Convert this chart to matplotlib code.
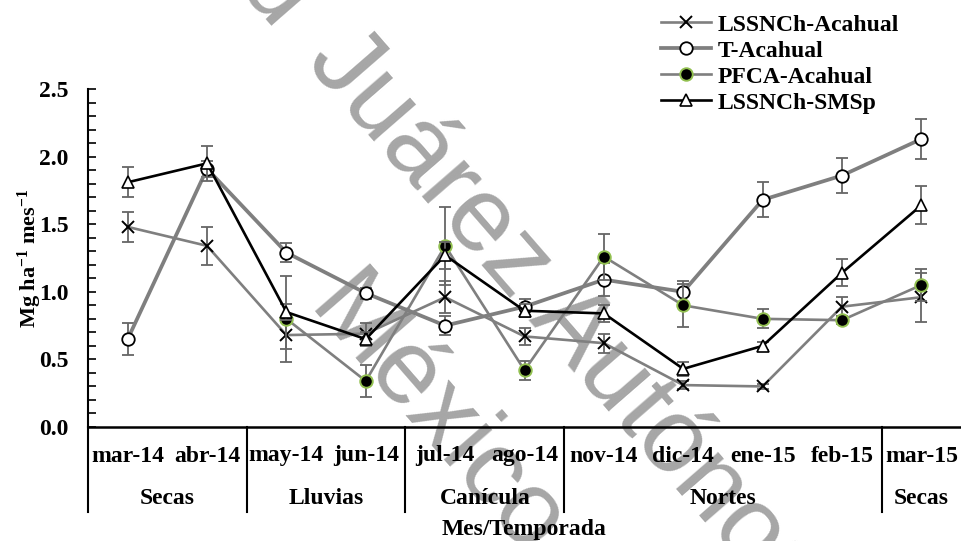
import numpy as np
import matplotlib
matplotlib.use("Agg")
import matplotlib.pyplot as plt
import matplotlib.transforms as mtransforms
from matplotlib.ticker import MultipleLocator, FormatStrFormatter

# ---------------- data ----------------
months = ['mar-14', 'abr-14', 'may-14', 'jun-14', 'jul-14', 'ago-14',
          'nov-14', 'dic-14', 'ene-15', 'feb-15', 'mar-15']
seasons = ['Secas', 'Lluvias', 'Canícula', 'Nortes', 'Secas']
season_sizes = [2, 2, 2, 4, 1]

series_names = ['LSSNCh-Acahual', 'T-Acahual', 'PFCA-Acahual', 'LSSNCh-SMSp']

lss_acahual = [1.48, 1.34, 0.68, 0.69, 0.96, 0.67, 0.62, 0.31, 0.30, 0.89, 0.96]
lss_acahual_err = [0.11, 0.14, 0.10, 0.08, 0.12, 0.06, 0.07, 0.03, 0.02, 0.07, 0.18]

t_acahual = [0.65, 1.91, 1.29, 0.99, 0.75, 0.89, 1.09, 1.00, 1.68, 1.86, 2.13]
t_acahual_err = [0.12, 0.06, 0.07, 0.04, 0.07, 0.06, 0.12, 0.08, 0.13, 0.13, 0.15]

pfca_acahual = [np.nan, np.nan, 0.80, 0.34, 1.34, 0.42, 1.26, 0.90, 0.80, 0.79, 1.05]
pfca_acahual_err = [np.nan, np.nan, 0.32, 0.12, 0.29, 0.07, 0.17, 0.16, 0.07, 0.03, 0.12]

lss_smsp = [1.81, 1.95, 0.85, 0.65, 1.27, 0.86, 0.84, 0.43, 0.60, 1.14, 1.64]
lss_smsp_err = [0.11, 0.13, 0.06, 0.05, 0.10, 0.05, 0.06, 0.05, 0.03, 0.10, 0.14]

# ---------------- style ----------------
SERIF = ['Liberation Serif', 'DejaVu Serif']
plt.rcParams['font.family'] = SERIF
plt.rcParams['font.weight'] = 'bold'
plt.rcParams['mathtext.fontset'] = 'custom'
plt.rcParams['mathtext.rm'] = 'Liberation Serif:bold'
plt.rcParams['mathtext.bf'] = 'Liberation Serif:bold'
plt.rcParams['mathtext.default'] = 'bf'

FS = 17
W, H = 961, 541
fig = plt.figure(figsize=(W / 100, H / 100), dpi=100)
fig.patch.set_facecolor('white')

ax_left, ax_right, ax_top, ax_bot = 88, 961, 89, 427
ax = fig.add_axes([ax_left / W, 1 - ax_bot / H, (ax_right - ax_left) / W, (ax_bot - ax_top) / H])
ax.set_facecolor('none')
ax.set_zorder(2)

# ---------------- watermark ----------------
wm_color = '#a6a6a6'
wm_kw = dict(rotation=-49, rotation_mode='anchor', fontsize=76, color=wm_color,
             family=['Liberation Sans', 'DejaVu Sans'], weight='normal', zorder=0)
fig.text(294 / W, 1 - 53 / H, 'Universidad ', ha='right', va='baseline', **wm_kw)
fig.text(305 / W, 1 - 62 / H, 'Juárez Autónoma de Tabasco', ha='left', va='baseline', **wm_kw)
fig.text(305 / W, 1 - 310 / H, 'México', ha='left', va='baseline', **wm_kw)

# ---------------- series ----------------
x = np.arange(len(months))
gray = '#7f7f7f'
ecol = '#666666'

specs = [
    (lss_acahual, lss_acahual_err, dict(color=gray, lw=1.9, marker='x', ms=8, mec='black', mew=1.4, mfc='none')),
    (t_acahual, t_acahual_err, dict(color=gray, lw=2.7, marker='o', ms=9, mec='black', mew=1.3, mfc='white')),
    (pfca_acahual, pfca_acahual_err, dict(color=gray, lw=1.9, marker='o', ms=9, mec='#92c050', mew=1.4, mfc='black')),
    (lss_smsp, lss_smsp_err, dict(color='black', lw=1.9, marker='^', ms=9, mec='black', mew=1.2, mfc='white')),
]

handles = []
for i, (vals, errs, kw) in enumerate(specs):
    v = np.array(vals, dtype=float)
    e = np.array(errs, dtype=float)
    ax.errorbar(x, v, yerr=e, fmt='none', ecolor=ecol, elinewidth=1.3,
                capsize=4.5, capthick=1.3, zorder=3 + i)
    ln, = ax.plot(x, v, zorder=4 + i, clip_on=False, **kw)
    handles.append(ln)

# ---------------- axes ----------------
ax.set_xlim(-0.5, len(months) - 0.5)
ax.set_ylim(0, 2.5)
ax.yaxis.set_major_locator(MultipleLocator(0.5))
ax.yaxis.set_minor_locator(MultipleLocator(0.1))
ax.yaxis.set_major_formatter(FormatStrFormatter('%.1f'))
ax.tick_params(axis='y', which='both', direction='in', length=6, width=1.2, pad=14,
               labelsize=FS)
ax.tick_params(axis='x', which='both', length=0, labelbottom=False)
for lab in ax.get_yticklabels():
    lab.set_fontweight('bold')
ax.spines['top'].set_visible(False)
ax.spines['right'].set_visible(False)
ax.spines['left'].set_linewidth(1.5)
ax.spines['bottom'].set_linewidth(1.8)

axh = ax_bot - ax_top
trans = mtransforms.blended_transform_factory(ax.transData, ax.transAxes)

# month labels
for xi, m in zip(x, months):
    ax.text(xi, -(456 - ax_bot) / axh, m, transform=trans, ha='center', va='center',
            fontsize=FS, fontweight='bold', clip_on=False)

# season labels and separators
sep_bottom = -(512 - ax_bot) / axh
start = -0.5
bounds = [start]
for name, n in zip(seasons, season_sizes):
    end = start + n
    ax.text((start + end) / 2, -(498 - ax_bot) / axh, name, transform=trans,
            ha='center', va='center', fontsize=FS, fontweight='bold', clip_on=False)
    bounds.append(end)
    start = end
for b in bounds[:-1]:
    ax.plot([b, b], [0, sep_bottom], transform=trans, color='black', lw=1.5,
            clip_on=False, zorder=1)

fig.text((ax_left + ax_right) / 2 / W, 1 - 529 / H, 'Mes/Temporada', ha='center',
         va='center', fontsize=FS, fontweight='bold')

fig.text(30 / W, 1 - 258 / H, r'Mg ha$^{-1}$ mes$^{-1}$', rotation=90, ha='center',
         va='center', fontsize=FS - 1, fontweight='bold')

# ---------------- legend ----------------
leg = fig.legend(handles, series_names, loc='upper left',
                 bbox_to_anchor=(661 / W, 1 - 14 / H), frameon=False,
                 prop=dict(family=SERIF, weight='bold', size=FS),
                 handlelength=2.1, handletextpad=0.3, labelspacing=0.19,
                 borderpad=0, borderaxespad=0)

fig.savefig('out.png', dpi=100, facecolor='white')
